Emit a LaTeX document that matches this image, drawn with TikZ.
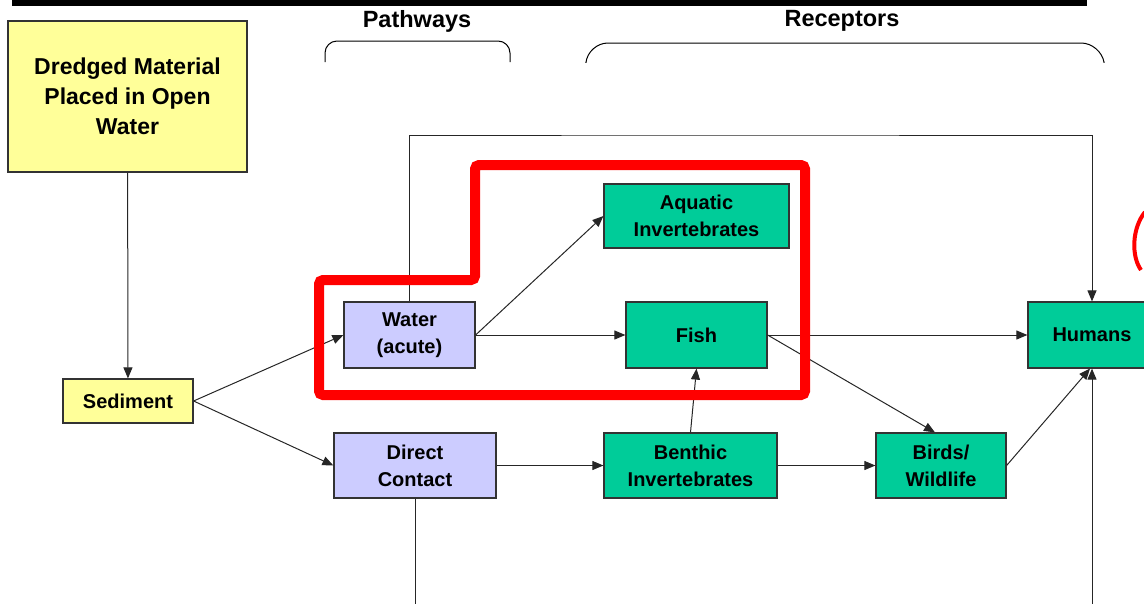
\documentclass[tikz,border=0pt]{standalone}
\usepackage{fontspec}
\setmainfont{Liberation Sans}
\usetikzlibrary{arrows.meta}
\definecolor{srcyellow}{HTML}{FFFF99}
\definecolor{pathblue}{HTML}{CCCCFF}
\definecolor{recgreen}{HTML}{00CC99}
\tikzset{
  box/.style={draw=black!80, line width=1.2pt, inner sep=0pt, align=center,
    font=\bfseries\fontsize{20}{27}\selectfont},
  source/.style={box, fill=srcyellow},
  pathway/.style={box, fill=pathblue},
  receptor/.style={box, fill=recgreen},
  link/.style={line width=1pt, draw=black!85},
  flow/.style={link, -{Triangle[length=11pt,width=9pt]}},
  heading/.style={font=\bfseries\fontsize{23.5}{27}\selectfont}
}

\begin{document}
\begin{tikzpicture}[x=1pt,y=-1pt]
\useasboundingbox (0,0) rectangle (1144,603);
\clip (0,0) rectangle (1144,603);
\fill (12,0) rectangle (1087,6);
% headings and brackets
\node[heading] (pathhead) at (417,21) {Pathways};
\node[heading] (rechead) at (842,21) {Receptors};
\draw[line width=1pt, rounded corners=12pt] (325,62) -- (325,41) -- (510,41) -- (510,62);
\draw[line width=1pt, rounded corners=20pt] (586,62) -- (588,43) -- (1101,43) -- (1104,62);
% boxes
\node[source, minimum width=239pt, minimum height=151pt, font=\bfseries\fontsize{23}{30}\selectfont] (dredged) at (127.5,96.5) {Dredged Material\\Placed in Open\\Water};
\node[source, minimum width=130pt, minimum height=44pt] (sediment) at (128,401) {Sediment};
\node[pathway, minimum width=131pt, minimum height=66pt] (water) at (409.5,335) {Water\\(acute)};
\node[pathway, minimum width=162pt, minimum height=65pt] (direct) at (415,465.5) {Direct\\Contact};
\node[receptor, minimum width=185pt, minimum height=64pt] (aquatic) at (696.5,216) {Aquatic\\Invertebrates};
\node[receptor, minimum width=141pt, minimum height=66pt] (fish) at (696.5,335) {Fish};
\node[receptor, minimum width=173pt, minimum height=65pt] (benthic) at (690.5,465.5) {Benthic\\Invertebrates};
\node[receptor, minimum width=130pt, minimum height=65pt] (birds) at (941,465.5) {Birds/\\Wildlife};
\node[receptor, minimum width=128pt, minimum height=66pt] (humans) at (1092,335) {Humans};
\coordinate (dcend) at (415,610);
\coordinate (humend) at (1092,610);
% connectors
\draw[flow] (dredged) -- (sediment);
\draw[flow] (sediment.east) -- (water.west);
\draw[flow] (sediment.east) -- (direct.west);
\draw[flow] (water.east) -- (aquatic.west);
\draw[flow] (water) -- (fish);
\draw[flow] (water.north) |- (710,135) -| (humans.north);
\draw[flow] (fish) -- (humans);
\draw[flow] (fish.east) -- ([xshift=-6pt]birds.north);
\draw[flow] (benthic.north) -- (fish.south);
\draw[flow] (direct) -- (benthic);
\draw[flow] (benthic) -- (birds);
\draw[flow] (birds.east) -- ([xshift=-2pt]humans.south);
\draw[flow] (humend) -- (humans.south);
\draw[link] (direct.south) -- (dcend);
% highlight
\draw[red, line width=10pt, rounded corners=4pt] (319,280) -- (475,280) -- (475,165) -- (805,165) -- (805,395) -- (319,395) -- cycle;
\draw[red, line width=4pt] (1145,212) .. controls (1132,228) and (1131,256) .. (1141,270);
\end{tikzpicture}
\end{document}
